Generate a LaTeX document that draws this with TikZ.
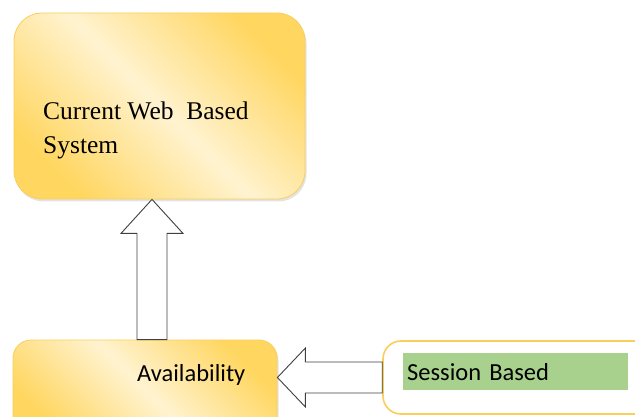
\documentclass[tikz,border=0pt]{standalone}
\usepackage{fontspec}
\setmainfont{Carlito}
\newfontfamily\boxserif{Liberation Serif}
\usetikzlibrary{calc,shadows}
\definecolor{GoldClr}{RGB}{255,214,96}
\definecolor{LightClr}{RGB}{255,243,208}
\definecolor{EdgeClr}{RGB}{250,206,90}
\definecolor{TagClr}{RGB}{169,209,142}

\tikzset{
  panel/.style={draw=EdgeClr,line width=0.8pt,rounded corners=#1,shade,
    top color=GoldClr,bottom color=GoldClr,middle color=LightClr,shading angle=-45,
    drop shadow={shadow xshift=1.5pt,shadow yshift=-2.5pt,opacity=0.22}},
  fatup/.style={draw=black!75,fill=white,line width=0.9pt,
    to path={let \p1=(\tikztostart), \p2=(\tikztotarget) in
      (\x1-15pt,\y1) -- (\x1-15pt,\y2-34pt) -- (\x1-31pt,\y2-34pt) -- (\x1,\y2)
      -- (\x1+31pt,\y2-34pt) -- (\x1+15pt,\y2-34pt) -- (\x1+15pt,\y1) -- cycle}},
  fatleft/.style={draw=black!75,fill=white,line width=0.9pt,
    to path={let \p1=(\tikztostart), \p2=(\tikztotarget) in
      (\x1,\y1+15.5pt) -- (\x2+28pt,\y1+15.5pt) -- (\x2+28pt,\y1+29.5pt) -- (\x2,\y1)
      -- (\x2+28pt,\y1-29.5pt) -- (\x2+28pt,\y1-15.5pt) -- (\x1,\y1-15.5pt) -- cycle}}
}

\begin{document}
\begin{tikzpicture}[x=1pt,y=-1pt]
\useasboundingbox (0,0) rectangle (635,417);
\clip (0,0) rectangle (635,417);

\node[panel=28pt,minimum width=291pt,minimum height=186pt] (sys) at (159.5,106) {};
\node[panel=18pt,minimum width=264pt,minimum height=100pt] (avail) at (145,390) {};
\node[draw=EdgeClr,line width=1.6pt,rounded corners=18pt,fill=white,
  minimum width=280pt,minimum height=73pt] (session) at (523,377.5) {};

\node[anchor=base west,align=left,font=\boxserif\fontsize{25.5}{34}\selectfont,inner sep=0pt]
  (systxt) at (43,154) {Current Web\enspace Based\\System};
\node[anchor=base west,font=\fontsize{24.5}{28}\selectfont,inner sep=0pt]
  (availtxt) at (137,381) {Availability};
\node[fill=TagClr,anchor=north west,minimum width=225pt,minimum height=37pt,
  text width=217pt,align=left,inner xsep=4pt,font=\fontsize{24.5}{28}\selectfont]
  (sesstag) at (403,353) {Session Based};

\coordinate (upx) at (152,0);
\draw[fatup] (avail.north -| upx) to (sys.south -| upx);
\draw[fatleft] (session.west) to (avail.east |- session.west);

\end{tikzpicture}
\end{document}
